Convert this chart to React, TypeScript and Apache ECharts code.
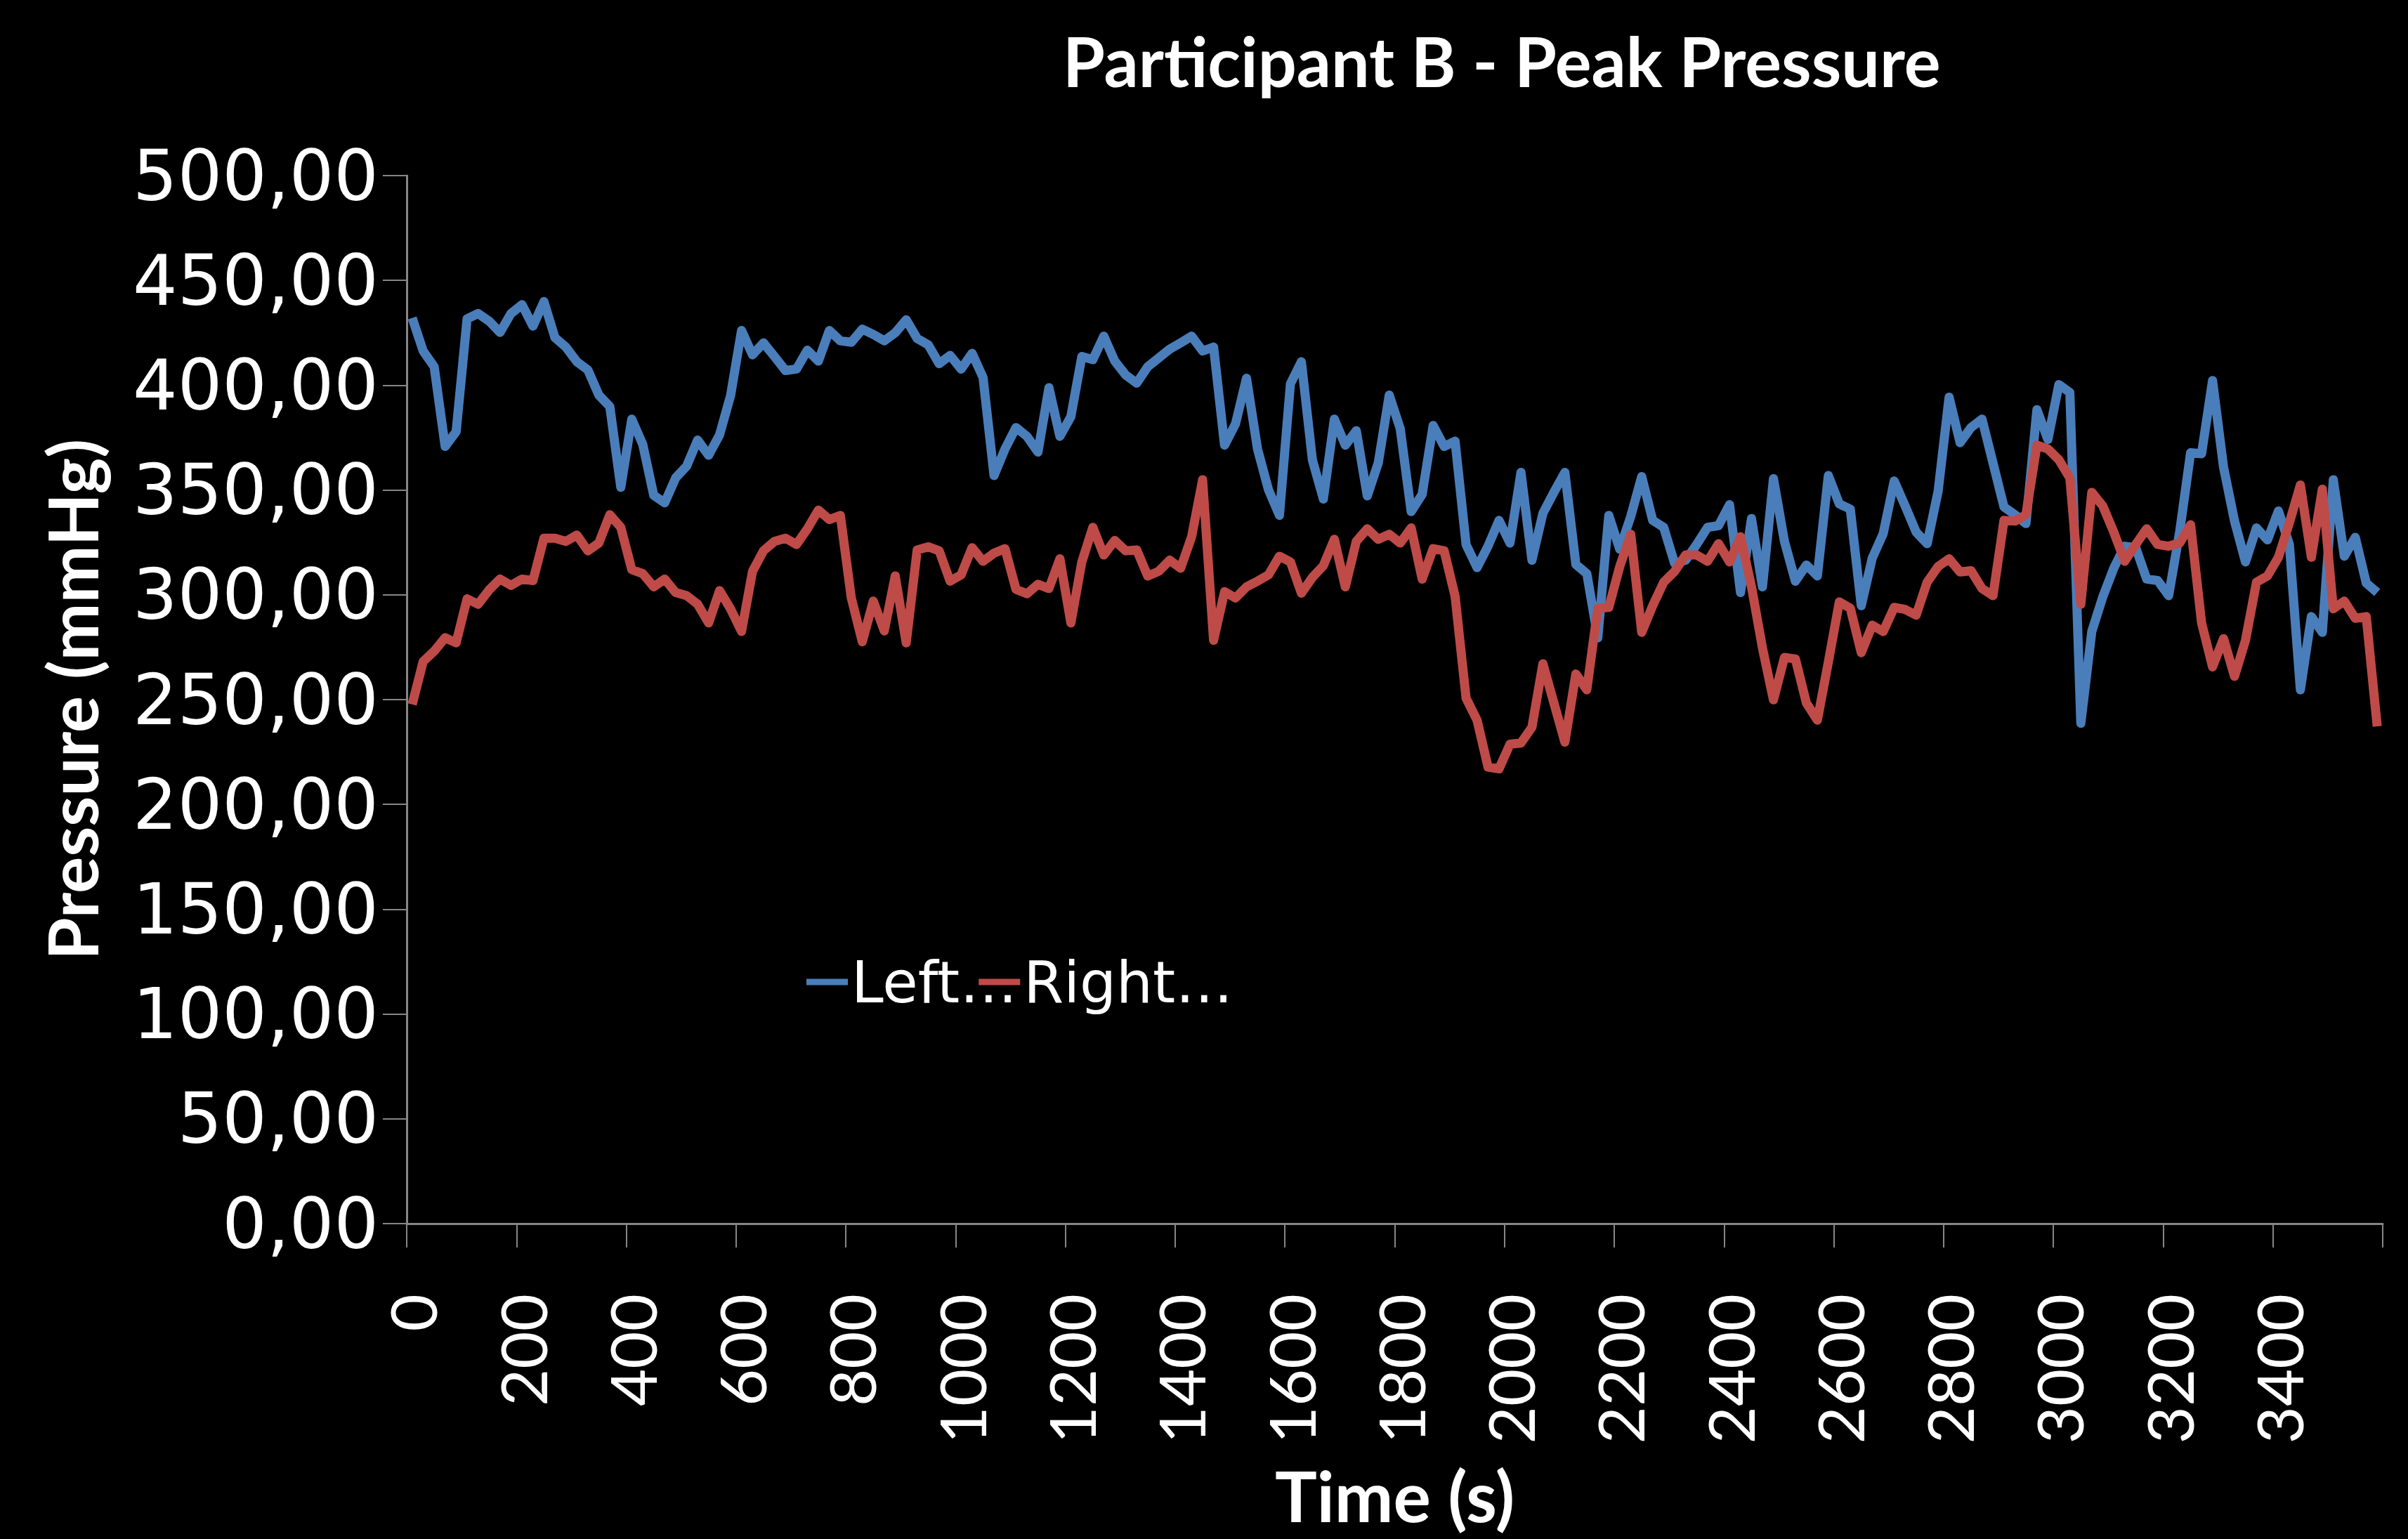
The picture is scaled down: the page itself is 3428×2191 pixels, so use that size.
import React, { useEffect, useRef } from "react";
import * as echarts from "echarts";

const times: string[] = Array.from({ length: 180 }, (_, i) => String(i * 20));

const leftValues: number[] = [
  432.1, 416.3, 408.8, 370.8, 377.8, 431.7, 434.2, 430.6, 425.2, 434.2,
  438.4, 428.2, 439.9, 422.7, 418.2, 411.2, 407.3, 395.3, 389.8, 351.3,
  383.8, 371.8, 347.5, 343.9, 355.8, 361.4, 373.8, 366.6, 376.3, 395.0,
  426.1, 414.5, 420.2, 413.7, 407.0, 407.7, 416.7, 411.5, 426.1, 421.2,
  420.5, 426.7, 424.2, 421.2, 425.0, 431.2, 422.3, 419.3, 410.3, 414.2,
  407.7, 415.2, 403.7, 356.9, 369.6, 379.8, 375.6, 368.1, 398.8, 375.6,
  385.0, 413.7, 412.2, 423.4, 411.5, 404.8, 401.0, 408.8, 413.0, 417.2,
  420.2, 423.4, 416.3, 418.2, 371.4, 381.6, 403.3, 369.6, 350.1, 337.9,
  400.7, 411.2, 364.4, 345.7, 383.8, 371.4, 378.3, 347.2, 362.9, 395.3,
  379.3, 339.7, 347.9, 380.8, 370.8, 373.3, 324.0, 313.0, 323.2, 335.5,
  324.7, 358.4, 316.5, 338.9, 348.9, 358.4, 314.5, 310.1, 279.5, 337.9,
  321.7, 337.4, 356.4, 335.5, 332.2, 315.0, 316.5, 324.0, 332.2, 333.0,
  343.0, 301.1, 336.4, 303.8, 355.4, 325.5, 306.5, 314.2, 309.0, 356.9,
  343.4, 340.9, 294.8, 317.5, 329.2, 354.3, 342.4, 329.9, 324.4, 349.4,
  394.3, 372.6, 379.8, 383.8, 362.9, 341.9, 338.2, 334.0, 388.3, 374.1,
  400.3, 396.5, 238.7, 282.5, 299.0, 312.7, 323.2, 322.5, 307.5, 306.8,
  299.6, 329.9, 367.8, 367.3, 402.2, 360.9, 335.2, 315.7, 331.9, 326.2,
  340.0, 324.0, 254.7, 289.6, 282.1, 354.9, 318.4, 327.4, 305.6, 301.1,
];

const rightValues: number[] = [
  247.7, 268.2, 273.1, 279.5, 277.1, 298.1, 295.5, 302.3, 307.5, 304.5,
  307.5, 306.8, 327.0, 327.0, 325.5, 328.5, 321.0, 324.7, 338.2, 332.2,
  312.0, 310.1, 303.8, 307.5, 301.1, 299.6, 295.5, 286.6, 302.0, 293.3,
  282.5, 311.2, 321.0, 325.5, 327.0, 324.0, 331.5, 340.4, 335.9, 337.9,
  298.5, 277.6, 297.0, 282.8, 309.0, 277.1, 321.4, 322.9, 321.0, 306.5,
  309.5, 322.5, 316.0, 319.9, 322.0, 302.6, 300.5, 305.0, 303.0, 317.2,
  286.6, 315.7, 332.2, 319.0, 325.9, 321.0, 321.4, 309.0, 311.2, 316.5,
  312.7, 327.7, 354.9, 278.3, 301.5, 298.5, 303.8, 306.5, 309.5, 318.4,
  315.7, 300.8, 308.3, 313.9, 326.5, 303.8, 325.5, 331.5, 326.5, 328.9,
  324.7, 331.9, 307.5, 322.0, 321.0, 299.3, 250.7, 240.2, 217.8, 217.0,
  228.7, 229.3, 236.8, 267.1, 248.4, 229.7, 262.2, 254.7, 293.6, 294.0,
  313.5, 328.9, 282.1, 294.8, 306.0, 311.2, 319.0, 319.0, 316.0, 324.4,
  315.7, 327.7, 303.8, 274.6, 249.9, 270.1, 269.4, 248.4, 240.2, 267.9,
  296.6, 293.6, 272.4, 285.5, 282.5, 294.0, 293.0, 290.3, 306.0, 313.5,
  317.2, 310.9, 311.5, 303.0, 299.6, 335.5, 335.2, 338.2, 371.4, 369.6,
  364.4, 355.8, 295.5, 348.9, 342.4, 329.9, 316.0, 324.0, 331.5, 324.0,
  323.2, 324.7, 333.4, 286.6, 265.6, 279.1, 261.1, 278.3, 306.0, 309.0,
  317.9, 334.4, 352.4, 317.9, 350.4, 293.3, 297.0, 288.8, 289.6, 237.2,
];

const seriesNames = ["Left", "Right"];
const colors = ["#4A7EBB", "#BE4B48"];

export default function App() {
  const ref = useRef<HTMLDivElement>(null);
  useEffect(() => {
    if (!ref.current) return;
    const chart = echarts.init(ref.current, null, { renderer: "svg" });
    chart.setOption({
      animation: false,
      backgroundColor: "#000000",
      title: {
        text: "Participant B - Peak Pressure",
        left: 1508,
        top: 33,
        textStyle: {
          color: "#ffffff",
          fontFamily: "Lato",
          fontWeight: "bold",
          fontSize: 97,
        },
      },
      legend: {
        left: 1143,
        top: 1352,
        icon: "rect",
        itemWidth: 59,
        itemHeight: 9,
        itemGap: -55,
        formatter: (name: string) => name + "…",
        textStyle: {
          color: "#ffffff",
          fontFamily: "DejaVu Sans",
          fontSize: 82,
        },
        data: seriesNames,
      },
      grid: {
        left: 579,
        right: 36,
        top: 250,
        bottom: 449,
        containLabel: false,
      },
      xAxis: {
        type: "category",
        data: times,
        boundaryGap: true,
        name: "Time (s)",
        nameLocation: "middle",
        nameGap: 336,
        nameTextStyle: {
          color: "#ffffff",
          fontFamily: "Lato",
          fontWeight: "bold",
          fontSize: 100,
        },
        axisLine: { show: true, lineStyle: { color: "#868686", width: 3 } },
        axisTick: {
          show: true,
          interval: 9,
          length: 34,
          lineStyle: { color: "#868686", width: 2 },
        },
        axisLabel: {
          interval: 9,
          rotate: 90,
          margin: 100,
          color: "#ffffff",
          fontFamily: "Lato",
          fontSize: 92,
        },
        splitLine: { show: false },
      },
      yAxis: {
        type: "value",
        min: 0,
        max: 500,
        interval: 50,
        name: "Pressure (mmHg)",
        nameLocation: "middle",
        nameGap: 428,
        nameTextStyle: {
          color: "#ffffff",
          fontFamily: "Lato",
          fontWeight: "bold",
          fontSize: 98,
        },
        axisLine: { show: true, lineStyle: { color: "#868686", width: 3 } },
        axisTick: {
          show: true,
          length: 34,
          lineStyle: { color: "#868686", width: 2 },
        },
        axisLabel: {
          margin: 40,
          color: "#ffffff",
          fontFamily: "DejaVu Sans",
          fontSize: 100,
          formatter: (v: number) => v.toFixed(2).replace(".", ","),
        },
        splitLine: { show: false },
      },
      series: [
        {
          name: seriesNames[0],
          type: "line",
          data: leftValues,
          symbol: "none",
          lineStyle: { color: colors[0], width: 13, join: "round" },
          itemStyle: { color: colors[0] },
        },
        {
          name: seriesNames[1],
          type: "line",
          data: rightValues,
          symbol: "none",
          lineStyle: { color: colors[1], width: 13, join: "round" },
          itemStyle: { color: colors[1] },
        },
      ],
    });
    return () => chart.dispose();
  }, []);
  return (
    <div
      ref={ref}
      style={{
        position: "fixed",
        left: 0,
        top: 0,
        width: 3428,
        height: 2191,
        background: "#000000",
      }}
    />
  );
}
